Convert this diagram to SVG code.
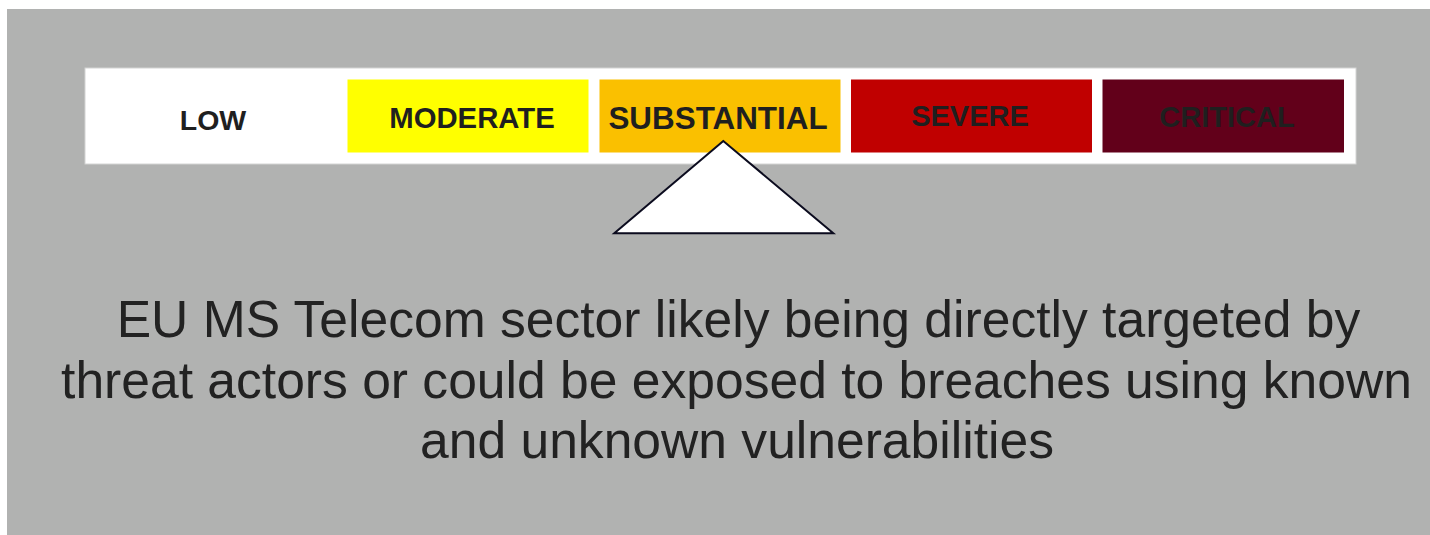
<svg xmlns="http://www.w3.org/2000/svg" width="1430" height="535" viewBox="0 0 1430 535">
  <style>
    .lvl { font-family: "Liberation Sans", Arial, sans-serif; font-weight: bold; fill: #1f1f1f; text-anchor: middle; }
    .desc { font-family: "Liberation Sans", Arial, sans-serif; font-size: 51.6px; fill: #222222; text-anchor: middle; }
  </style>
  <rect x="0" y="0" width="1430" height="535" fill="#ffffff"/>
  <!-- panel -->
  <rect x="7" y="9" width="1423" height="526" fill="#b1b2b1"/>
  <!-- scale strip -->
  <g id="scale">
    <rect x="85" y="68" width="1271" height="96" fill="#ffffff" stroke="#d4d4d4" stroke-width="1"/>
  </g>
  <g id="level-low">
    <text class="lvl" x="213" y="130" font-size="28.5">LOW</text>
  </g>
  <g id="level-moderate">
    <rect x="347.5" y="79.5" width="241" height="73" fill="#ffff00"/>
    <text class="lvl" x="472" y="128.3" font-size="29.3">MODERATE</text>
  </g>
  <g id="level-substantial">
    <rect x="599.5" y="79.5" width="241" height="73" fill="#fac000"/>
    <text class="lvl" x="718" y="129" font-size="31.4">SUBSTANTIAL</text>
  </g>
  <g id="level-severe">
    <rect x="851" y="79.5" width="241" height="73" fill="#c00000"/>
    <text class="lvl" x="970" y="126" font-size="29">SEVERE</text>
  </g>
  <g id="level-critical">
    <rect x="1102.5" y="79.5" width="241.5" height="73" fill="#62001a"/>
    <text class="lvl" x="1227" y="127" font-size="29">CRITICAL</text>
  </g>
  <!-- pointer -->
  <g id="pointer">
    <polygon points="723.3,141 614.3,233.3 833.3,233.3" fill="#ffffff" stroke="#0b0b1e" stroke-width="2" stroke-linejoin="miter"/>
  </g>
  <g id="description">
    <text class="desc" x="738.5" y="337.3">EU MS Telecom sector likely being directly targeted by</text>
    <text class="desc" x="736.5" y="398.3">threat actors or could be exposed to breaches using known</text>
    <text class="desc" x="737" y="458.3">and unknown vulnerabilities</text>
  </g>
</svg>
